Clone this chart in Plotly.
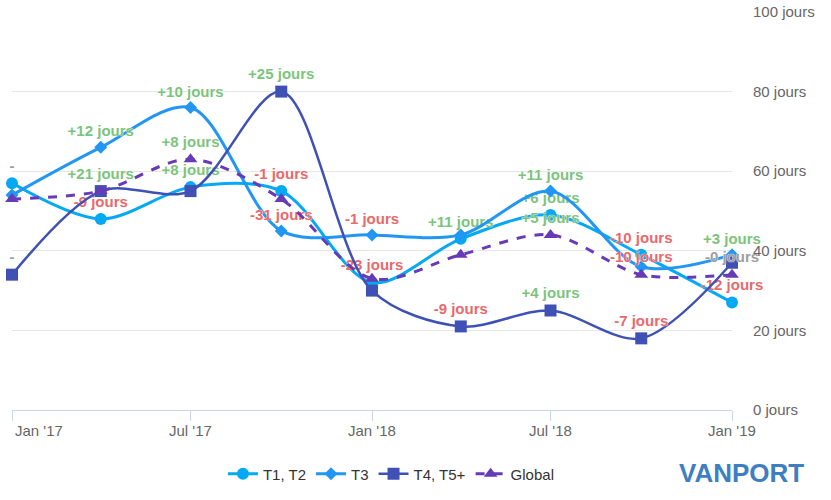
import plotly.graph_objects as go

dates = ["2017-01-01", "2017-04-01", "2017-07-01", "2017-10-01", "2018-01-01",
         "2018-04-01", "2018-07-01", "2018-10-01", "2019-01-01"]

t12 = [57, 48, 56, 55, 32, 43, 49, 39, 27]
t3 = [54, 66, 76, 45, 44, 44, 55, 36, 39]
t45 = [34, 55, 55, 80, 30, 21, 25, 18, 37]
glob = [53, 55, 63, 53, 33, 39, 44, 34, 34]

# which data labels are visible (others are hidden by overlap in the original)
show_t12 = [1, 1, 1, 1, 1, 1, 1, 1, 1]
show_t3 = [0, 1, 1, 1, 1, 0, 1, 0, 1]
show_t45 = [1, 1, 0, 1, 0, 1, 1, 1, 0]
show_glob = [0, 0, 1, 0, 0, 0, 1, 1, 1]

y_ticks = [0, 20, 40, 60, 80, 100]
x_ticks = ["2017-01-01", "2017-07-01", "2018-01-01", "2018-07-01", "2019-01-01"]
x_ticktext = ["Jan '17", "Jul '17", "Jan '18", "Jul '18", "Jan '19"]

GREEN = "#7cc47c"
RED = "#e8696b"
GRAY = "#9e9e9e"


def labels(vals, show):
    txt, col = [], []
    for i, v in enumerate(vals):
        if i == 0:
            t, c = "-", GRAY
        else:
            d = v - vals[i - 1]
            if d > 0:
                t, c = f"+{d} jours", GREEN
            elif d < 0:
                t, c = f"{d} jours", RED
            else:
                t, c = "-0 jours", GRAY
        if not show[i]:
            t = ""
        txt.append(t)
        col.append(c)
    return txt, col


series = [
    ("T1, T2", t12, show_t12, "#03a9f4", "circle", 12, "solid", 3),
    ("T3", t3, show_t3, "#2196f3", "diamond", 10, "solid", 3),
    ("T4, T5+", t45, show_t45, "#3f51b5", "square", 12, "solid", 2.5),
    ("Global", glob, show_glob, "#673ab7", "triangle-up", 12, "dash", 3),
]

fig = go.Figure()
for name, vals, show, color, sym, size, dash, width in series:
    txt, col = labels(vals, show)
    fig.add_trace(go.Scatter(
        x=dates, y=vals, name=name, mode="lines+markers+text",
        line=dict(color=color, width=width, shape="spline", smoothing=0.9, dash=dash),
        marker=dict(symbol=sym, size=size, color=color),
        text=txt, textposition="top center",
        textfont=dict(family="Liberation Sans, Arial, sans-serif", size=15,
                      color=col, weight="bold",
                      shadow="0px 0px 1px #ffffff, 0px 0px 1px #ffffff"),
        cliponaxis=False,
    ))

annotations = []
for i, (d, t) in enumerate(zip(x_ticks, x_ticktext)):
    annotations.append(dict(
        x=d, y=-0.025, xref="x", yref="paper", text=t, showarrow=False,
        xanchor="left" if i == 0 else "center", yanchor="top",
        xshift=1 if i == 0 else 0,
        font=dict(family="Liberation Sans, Arial, sans-serif", size=15, color="#666666"),
    ))
annotations.append(dict(
    xref="paper", yref="paper", x=1.0, y=-0.158, xanchor="right", yanchor="middle",
    xshift=74, text="<b>VANPORT</b>", showarrow=False,
    font=dict(family="Liberation Sans, Arial, sans-serif", size=26, color="#3d7fc0"),
))

fig.update_layout(
    width=831, height=500,
    margin=dict(l=12, r=99, t=12, b=90, autoexpand=False),
    paper_bgcolor="white", plot_bgcolor="white",
    font=dict(family="Liberation Sans, Arial, sans-serif", size=15, color="#333333"),
    showlegend=True,
    legend=dict(orientation="h", x=0.527, xanchor="center", y=-0.161, yanchor="middle",
                font=dict(size=15, color="#333333")),
    annotations=annotations,
    xaxis=dict(
        type="date", range=["2017-01-01", "2019-01-01"],
        tickvals=x_ticks, ticktext=x_ticktext, showticklabels=False,
        showgrid=False, zeroline=False, automargin=False,
        showline=True, linecolor="#ccd6eb", linewidth=1,
        ticks="outside", ticklen=10, tickcolor="#ccd6eb",
    ),
    yaxis=dict(
        side="right", range=[0, 100], tickvals=y_ticks,
        ticktext=[f"{v} jours" for v in y_ticks], automargin=False,
        showgrid=True, gridcolor="#e6e6e6", zeroline=False,
        tickfont=dict(size=15, color="#666666"), ticklabelstandoff=20,
    ),
)

fig.write_html("out.html", config={"displayModeBar": False},
               post_script="document.body.style.margin='0';")
